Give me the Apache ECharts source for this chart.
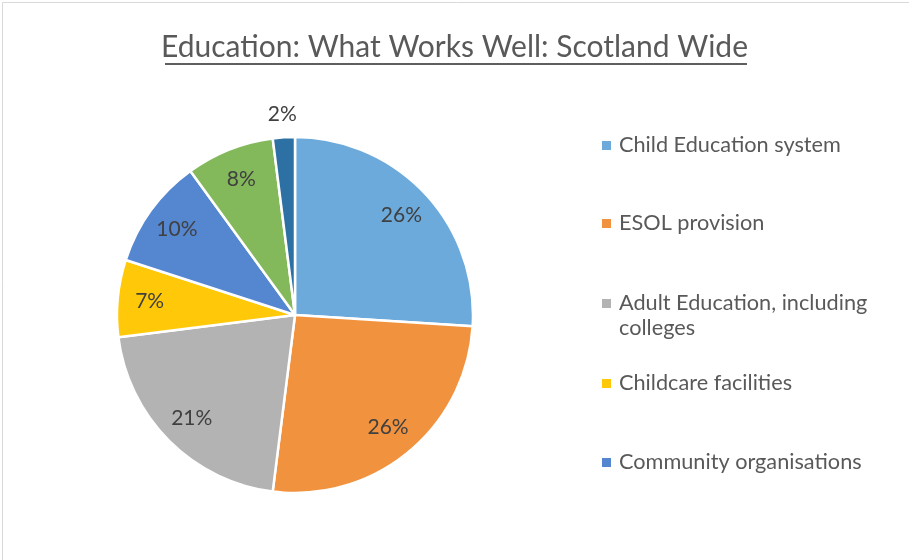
<!DOCTYPE html>
<html>
<head>
<meta charset="utf-8">
<script src="https://cdn.jsdelivr.net/npm/echarts@6/dist/echarts.min.js"></script>
<style>
  html, body { margin: 0; padding: 0; background: #ffffff; }
  #chart { width: 909px; height: 560px; }
</style>
</head>
<body>
<div id="chart"></div>
<script>
// Responses on what works well in education, Scotland wide (share of mentions)
const categories = [
  'Child Education system',
  'ESOL provision',
  'Adult Education, including colleges',
  'Childcare facilities',
  'Community organisations',
  'Other support',
  'Other'
];
const shares = [26, 26, 21, 7, 10, 8, 2];
const sliceColors = ['#6caadc', '#f1923f', '#b3b3b3', '#ffc90a', '#5586d0', '#83b85b', '#2d70a4'];
// legend shows the first five categories
const legendNames = categories.slice(0, 5);
const legendTops = [133, 211, 266, 371, 450];

const FONT = 'Lato';
const CENTER = [295, 315];
const R = 178;

const pieData = categories.map((name, i) => ({
  name: name,
  value: shares[i],
  itemStyle: { color: sliceColors[i] }
}));

// invisible rings used only to place percentage labels at the Excel-like radius
const innerLabelData = categories.map((name, i) => ({
  name: name,
  value: shares[i],
  label: { show: shares[i] >= 5 }
}));
const outerLabelData = categories.map((name, i) => ({
  name: name,
  value: shares[i],
  label: { show: shares[i] < 5 }
}));

const labelStyle = {
  position: 'inside',
  formatter: p => p.value + '%',
  color: '#404040',
  fontFamily: FONT,
  fontSize: 21
};

const legends = legendNames.map((name, i) => ({
  data: [name],
  orient: 'vertical',
  left: 602,
  top: legendTops[i],
  padding: 0,
  icon: 'rect',
  itemWidth: 9,
  itemHeight: 9,
  itemStyle: { borderWidth: 0 },
  selectedMode: false,
  formatter: i === 2 ? (n => '\nAdult Education, including\ncolleges') : undefined,
  textStyle: {
    color: '#595959',
    fontFamily: FONT,
    fontSize: 21.7,
    lineHeight: 25,
    padding: [0, 0, 0, 3]
  }
}));

const chart = echarts.init(document.getElementById('chart'), null, { renderer: 'canvas' });
chart.setOption({
  backgroundColor: '#ffffff',
  animation: false,
  title: {
    text: 'Education: What Works Well: Scotland Wide',
    left: 'center',
    top: 32,
    padding: 0,
    textStyle: {
      color: '#595959',
      fontFamily: FONT,
      fontWeight: 'normal',
      fontSize: 30
    }
  },
  legend: legends,
  graphic: [
    // chart area border
    { type: 'rect', shape: { x: 2.5, y: 2.5, width: 1000, height: 1000 },
      style: { fill: 'none', stroke: '#d9d9d9', lineWidth: 1 }, silent: true },
    // title underline
    { type: 'rect', shape: { x: 165, y: 63, width: 582, height: 2 },
      style: { fill: '#5f5f5f' }, silent: true }
  ],
  series: [
    {
      type: 'pie',
      center: CENTER,
      radius: [0, R],
      startAngle: 90,
      clockwise: true,
      data: pieData,
      label: { show: false },
      labelLine: { show: false },
      itemStyle: { borderColor: '#ffffff', borderWidth: 2.5 },
      emphasis: { disabled: true }
    },
    {
      type: 'pie',
      center: CENTER,
      radius: [108, R],
      startAngle: 90,
      clockwise: true,
      silent: true,
      data: innerLabelData,
      itemStyle: { color: 'rgba(0,0,0,0)' },
      label: labelStyle,
      labelLine: { show: false },
      emphasis: { disabled: true }
    },
    {
      type: 'pie',
      center: CENTER,
      radius: [R, 218],
      startAngle: 90,
      clockwise: true,
      silent: true,
      data: outerLabelData,
      itemStyle: { color: 'rgba(0,0,0,0)' },
      label: labelStyle,
      labelLine: { show: false },
      emphasis: { disabled: true }
    }
  ]
});
</script>
</body>
</html>
